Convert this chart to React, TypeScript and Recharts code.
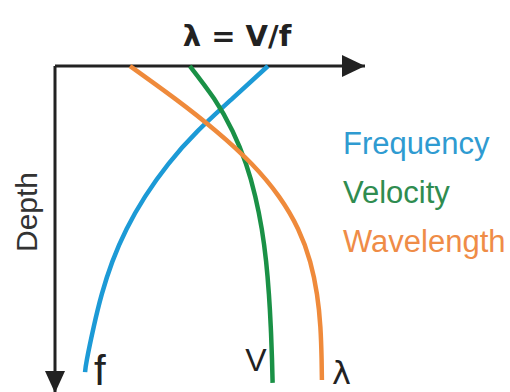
import {
  LineChart,
  Line,
  XAxis,
  YAxis,
  ReferenceDot,
  ReferenceLine,
} from "recharts";

// depth samples (0 at surface, 100 at the bottom of the section)
const freqDepth = [0, 10, 20, 30, 40, 50, 60, 70, 80, 90, 93.9];
const freqValue = [68.7, 57.2, 46.0, 36.6, 29.1, 23.1, 18.5, 15.1, 12.5, 10.3, 9.7];

const velDepth = [0, 10, 20, 30, 40, 50, 60, 70, 80, 90, 97.2];
const velValue = [43.5, 51.3, 57.3, 61.6, 64.6, 66.7, 68.1, 69.0, 69.6, 70.0, 70.2];

const waveDepth = [0, 10, 20, 30, 40, 50, 60, 70, 80, 90, 96.3];
const waveValue = [24.2, 38.7, 52.0, 63.4, 72.2, 78.4, 82.3, 84.5, 85.6, 86.0, 86.1];

const seriesNames = ["Frequency", "Velocity", "Wavelength"];
const endLabels = ["f", "V", "λ"];
const colors = ["#1c9ad6", "#1a9146", "#ef8a3b"];
const textColors = ["#2f9bd1", "#2f8c50", "#ef8c47"];

const toRows = (depth: number[], value: number[]) =>
  depth.map((d, i) => ({ depth: d, x: value[i] }));

const freqRows = toRows(freqDepth, freqValue);
const velRows = toRows(velDepth, velValue);
const waveRows = toRows(waveDepth, waveValue);

const FONT = "'Liberation Sans', Arial, sans-serif";
const AXIS = "#222";

const ArrowRight = (props: any) => {
  const { cx, cy } = props;
  return <polygon points={`${cx - 23},${cy - 11} ${cx},${cy} ${cx - 23},${cy + 11}`} fill={AXIS} />;
};

const ArrowDown = (props: any) => {
  const { cx, cy } = props;
  return <polygon points={`${cx - 10},${cy - 21} ${cx + 10},${cy - 21} ${cx},${cy + 1}`} fill={AXIS} />;
};

const last = (a: number[]) => a[a.length - 1];

export default function App() {
  return (
    <div style={{ position: "absolute", left: 0, top: 0, background: "#fff" }}>
      <LineChart
        width={510}
        height={392}
        layout="vertical"
        margin={{ top: 66, right: 145, bottom: 0, left: 55 }}
      >
        <XAxis type="number" domain={[0, 100]} hide />
        <YAxis type="number" dataKey="depth" domain={[0, 100]} hide />

        {/* axes drawn as reference lines with arrowheads */}
        <ReferenceLine y={0} stroke={AXIS} strokeWidth={3} ifOverflow="visible" />
        <ReferenceLine x={0} stroke={AXIS} strokeWidth={3} ifOverflow="visible" />
        <ReferenceDot x={100} y={0} ifOverflow="visible" shape={ArrowRight} />
        <ReferenceDot x={0} y={100} ifOverflow="visible" shape={ArrowDown} />

        <Line
          data={freqRows}
          dataKey="x"
          type="natural"
          stroke={colors[0]}
          strokeWidth={4.5}
          dot={false}
          isAnimationActive={false}
        />
        <Line
          data={velRows}
          dataKey="x"
          type="natural"
          stroke={colors[1]}
          strokeWidth={4.5}
          dot={false}
          isAnimationActive={false}
        />
        <Line
          data={waveRows}
          dataKey="x"
          type="natural"
          stroke={colors[2]}
          strokeWidth={4.5}
          dot={false}
          isAnimationActive={false}
        />

        {/* symbols at the end of each curve */}
        <ReferenceDot
          x={last(freqValue)}
          y={last(freqDepth)}
          r={0}
          ifOverflow="visible"
          label={{ value: endLabels[0], position: "right", offset: 9, dy: -2, fill: "#222", fontSize: 42, fontFamily: FONT }}
        />
        <ReferenceDot
          x={last(velValue)}
          y={last(velDepth)}
          r={0}
          ifOverflow="visible"
          label={{ value: endLabels[1], position: "left", offset: 6, dy: -23, fill: "#222", fontSize: 32, fontFamily: FONT }}
        />
        <ReferenceDot
          x={last(waveValue)}
          y={last(waveDepth)}
          r={0}
          ifOverflow="visible"
          label={{ value: endLabels[2], position: "right", offset: 10, dy: -7, fill: "#222", fontSize: 32, fontFamily: "'DejaVu Sans', sans-serif" }}
        />

        <text x={237} y={46} textAnchor="middle" fontSize={29} fontWeight="bold" fill="#222" fontFamily="'DejaVu Sans', sans-serif">
          λ = V/f
        </text>
        <text
          x={37}
          y={212}
          textAnchor="middle"
          fontSize={30}
          fill="#333"
          fontFamily={FONT}
          transform="rotate(-90 37 212)"
        >
          Depth
        </text>
        {seriesNames.map((name, i) => (
          <text key={name} x={343} y={154 + i * 49} fontSize={31} fill={textColors[i]} fontFamily={FONT}>
            {name}
          </text>
        ))}
      </LineChart>
    </div>
  );
}
